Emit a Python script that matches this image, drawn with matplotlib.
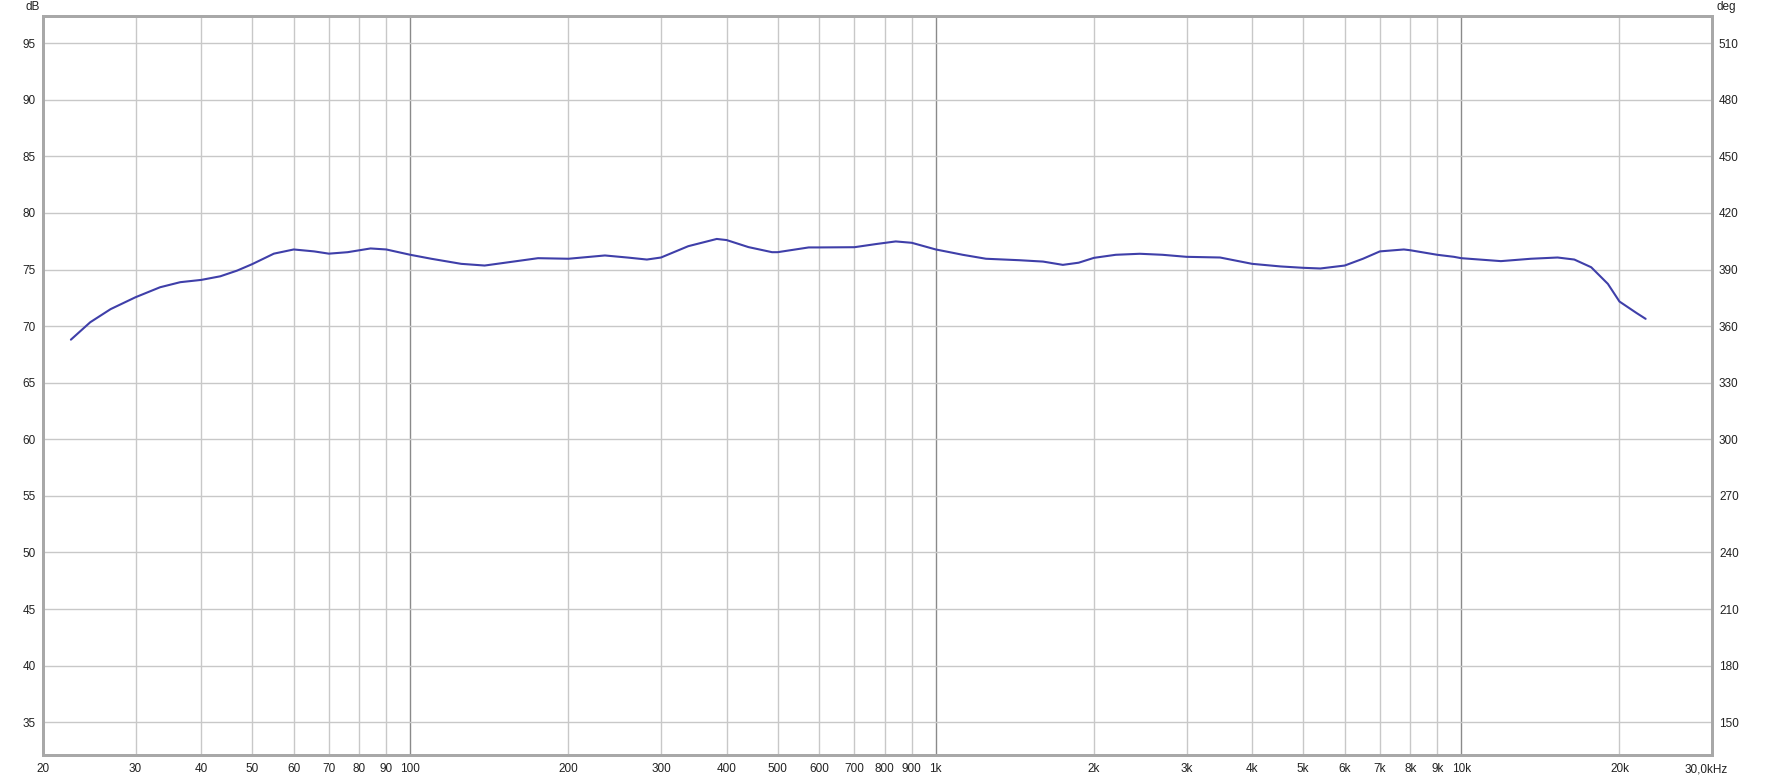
import numpy as np
import matplotlib
matplotlib.use("Agg")
from matplotlib import pyplot as plt
from matplotlib.ticker import FixedLocator, NullLocator
from matplotlib.transforms import ScaledTranslation

# Frequency response (Hz, dB)
freq = [22.6, 24.6, 26.9, 30, 33.4, 36.5, 40, 43.5, 46.8, 50, 55, 60, 65.6, 70,
        76, 84, 90, 100, 109.6, 125, 138.5, 151, 175, 200, 234.6, 260, 282, 300,
        338, 383, 400, 440, 488, 500, 573, 600, 700, 770, 839, 900, 1000, 1076,
        1125, 1246, 1443, 1600, 1745, 1870, 2000, 2200, 2445, 2700, 3000, 3475,
        4000, 4530, 5000, 5392, 6000, 6500, 7000, 7775, 8000, 9000, 9685, 10000,
        11895, 13570, 15250, 16410, 17670, 19010, 20000, 21530, 22430]
spl = [68.8, 70.34, 71.5, 72.55, 73.43, 73.88, 74.08, 74.4, 74.9, 75.47, 76.4,
       76.77, 76.6, 76.4, 76.53, 76.86, 76.77, 76.3, 75.95, 75.5, 75.35, 75.59,
       76.0, 75.95, 76.24, 76.05, 75.88, 76.06, 77.06, 77.7, 77.6, 76.98, 76.53,
       76.53, 76.95, 76.95, 76.97, 77.25, 77.48, 77.36, 76.77, 76.48, 76.3, 75.95,
       75.82, 75.7, 75.41, 75.6, 76.03, 76.3, 76.39, 76.3, 76.12, 76.06, 75.5,
       75.27, 75.15, 75.09, 75.35, 75.95, 76.6, 76.77, 76.7, 76.3, 76.12, 76.0,
       75.74, 75.95, 76.06, 75.88, 75.2, 73.73, 72.17, 71.17, 70.64]

db_ticks = [35, 40, 45, 50, 55, 60, 65, 70, 75, 80, 85, 90, 95]
deg_ticks = [150, 180, 210, 240, 270, 300, 330, 360, 390, 420, 450, 480, 510]
x_ticks = [20, 30, 40, 50, 60, 70, 80, 90, 100, 200, 300, 400, 500, 600, 700,
           800, 900, 1000, 2000, 3000, 4000, 5000, 6000, 7000, 8000, 9000,
           10000, 20000, 30000]
x_labels = ["20", "30", "40", "50", "60", "70", "80", "90", "100", "200", "300",
            "400", "500", "600", "700", "800", "900", "1k", "2k", "3k", "4k",
            "5k", "6k", "7k", "8k", "9k", "10k", "20k", "30,0kHz"]
decades = [100, 1000, 10000]

plt.rcParams['font.family'] = ['Liberation Sans', 'DejaVu Sans']

fig = plt.figure(figsize=(17.69, 7.79), dpi=100)
ax = fig.add_axes([43 / 1769, 1 - 755 / 779, (1712 - 43) / 1769, (755 - 16) / 779])

ylo, yhi = 32.1, 97.4
ax.set_xscale("log")
ax.set_xlim(20, 30000)
ax.set_ylim(ylo, yhi)

# Grid
for f in x_ticks[1:-1]:
    c = "#8a8a8a" if f in decades else "#c8c8c8"
    ax.axvline(f, color=c, lw=1.0, zorder=1)
for d in db_ticks:
    ax.axhline(d, color="#c8c8c8", lw=1.0, zorder=1)

ax.plot(freq, spl, color="#3f3fa9", lw=1.5, zorder=3,
        solid_joinstyle="round", solid_capstyle="round")

ax.xaxis.set_major_locator(FixedLocator(x_ticks))
ax.xaxis.set_minor_locator(NullLocator())
ax.set_xticklabels(x_labels)
ax.set_yticks(db_ticks)
ax.tick_params(axis="both", which="both", length=0, labelsize=8.5, colors="#222222")
ax.tick_params(axis="x", pad=6)
ax.tick_params(axis="y", pad=5)

# nudge the last label (30,0kHz) a bit to the left, like the original
last = ax.get_xticklabels()[-1]
last.set_transform(last.get_transform() + ScaledTranslation(-0.06, 0, fig.dpi_scale_trans))

# Right axis in degrees
ax2 = ax.twinx()
ax2.set_ylim(510 + (ylo - 95) * 6, 510 + (yhi - 95) * 6)
ax2.set_yticks(deg_ticks)
ax2.tick_params(axis="y", length=0, labelsize=8.5, colors="#222222", pad=5)

for a in (ax, ax2):
    for s in a.spines.values():
        s.set_color("#a8a8a8")
        s.set_linewidth(2.0)

fig.text(25 / 1769, 1 - 7 / 779, "dB", fontsize=8.5, color="#222222", va="center", ha="left")
fig.text(1716 / 1769, 1 - 7 / 779, "deg", fontsize=8.5, color="#222222", va="center", ha="left")

fig.savefig("out.png", dpi=100)
